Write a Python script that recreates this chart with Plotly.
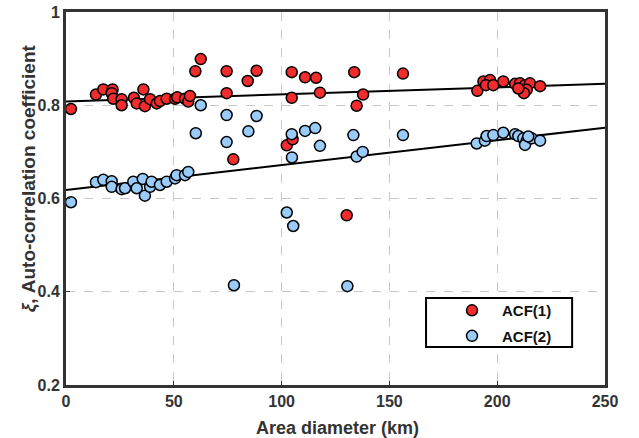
import plotly.graph_objects as go

# ACF(1) data (area diameter km, coefficient)
acf1_x = [2.3, 13.9, 17.3, 21.6, 21.2, 21.9, 25.8, 25.8, 31.5, 32.8, 35.9, 36.6, 39.0, 42.1, 43.6,
          46.7, 50.6, 51.6, 55.2, 56.7, 57.5,
          62.5, 60.0, 74.5, 84.3, 88.4, 74.5, 77.6,
          104.7, 110.9, 116.0, 133.7, 156.3, 104.7, 117.8, 137.8, 134.8, 102.4, 105.1, 130.2,
          190.8, 193.6, 196.7, 194.8, 198.2, 202.8, 208.3, 210.6, 212.9, 215.2, 213.7, 219.9, 212.4, 209.8]
acf1_y = [0.792, 0.823, 0.834, 0.834, 0.826, 0.814, 0.813, 0.800, 0.816, 0.804, 0.834, 0.798, 0.813, 0.804, 0.809,
          0.814, 0.814, 0.817, 0.814, 0.808, 0.820,
          0.899, 0.873, 0.873, 0.852, 0.874, 0.826, 0.684,
          0.871, 0.860, 0.859, 0.871, 0.868, 0.816, 0.827, 0.823, 0.799, 0.714, 0.727, 0.564,
          0.831, 0.851, 0.854, 0.843, 0.843, 0.851, 0.846, 0.847, 0.843, 0.847, 0.833, 0.841, 0.826, 0.836]

# ACF(2) data
acf2_x = [2.3, 13.9, 17.3, 21.2, 21.2, 25.8, 27.4, 31.2, 32.8, 35.6, 36.6, 39.0, 39.7, 43.6, 46.7,
          50.6, 51.3, 55.2, 56.7,
          62.5, 74.5, 88.4, 60.2, 74.5, 84.6, 104.7, 110.9, 115.6, 117.8, 133.3, 104.8, 134.8, 137.6, 156.3,
          102.4, 105.4, 77.9, 130.5,
          190.5, 194.3, 195.1, 198.2, 202.8, 208.3, 209.8, 212.1, 213.7, 212.9, 216.0, 219.9, 214.4]
acf2_y = [0.592, 0.635, 0.640, 0.637, 0.625, 0.620, 0.622, 0.636, 0.622, 0.642, 0.606, 0.625, 0.636, 0.629, 0.636,
          0.643, 0.650, 0.650, 0.657,
          0.800, 0.779, 0.777, 0.740, 0.721, 0.744, 0.738, 0.745, 0.751, 0.713, 0.736, 0.688, 0.690, 0.700, 0.736,
          0.570, 0.541, 0.414, 0.412,
          0.718, 0.724, 0.734, 0.736, 0.741, 0.738, 0.734, 0.729, 0.724, 0.715, 0.729, 0.724, 0.733]

# Linear trend lines
fit_x = [0, 250]
fit_acf1 = [0.808, 0.846]
fit_acf2 = [0.618, 0.752]

x_ticks = [0, 50, 100, 150, 200, 250]
y_ticks = [0.2, 0.4, 0.6, 0.8, 1.0]
y_tick_labels = ["0.2", "0.4", "0.6", "0.8", "1"]

RED = "#f22c2c"
BLUE = "#99ccfa"
FONT = "Liberation Sans"
DARK = "#333333"

fig = go.Figure()
fig.add_trace(go.Scatter(x=fit_x, y=fit_acf1, mode="lines", line=dict(color="black", width=2),
                         showlegend=False, hoverinfo="skip"))
fig.add_trace(go.Scatter(x=fit_x, y=fit_acf2, mode="lines", line=dict(color="black", width=2),
                         showlegend=False, hoverinfo="skip"))
fig.add_trace(go.Scatter(x=acf1_x, y=acf1_y, mode="markers", name="<b>ACF(1)</b>", legendgroup="a",
                         marker=dict(color=RED, size=11, line=dict(color="black", width=1.5))))
fig.add_trace(go.Scatter(x=acf2_x, y=acf2_y, mode="markers", name="<b>ACF(2)</b>", legendgroup="b",
                         marker=dict(color=BLUE, size=11, line=dict(color="black", width=1.5))))

axis_common = dict(showline=True, mirror=True, linecolor=DARK, linewidth=3,
                   showgrid=True, gridcolor="#c8c8c8", griddash="dash", gridwidth=1.2,
                   zeroline=False, ticks="inside", ticklen=4, tickcolor=DARK,
                   automargin=False,
                   tickfont=dict(family=FONT, size=16, color=DARK))

fig.update_xaxes(range=[0, 250], tickvals=x_ticks,
                 ticktext=[f"<b>{v}</b>" for v in x_ticks], **axis_common)
fig.update_yaxes(range=[0.2, 1.0], tickvals=y_ticks,
                 ticktext=[f"<b>{t}</b>" for t in y_tick_labels], **axis_common)

# Axis titles
fig.add_annotation(text="<b>Area diameter (km)</b>", xref="paper", yref="paper",
                   x=0.503, y=-0.115, xanchor="center", yanchor="middle", showarrow=False,
                   font=dict(family=FONT, size=18, color=DARK))
fig.add_annotation(text="<b><i>ξ</i>, Auto-correlation coefficient</b>", xref="paper", yref="paper",
                   x=-0.068, y=0.555, xanchor="center", yanchor="middle", showarrow=False,
                   textangle=-90, font=dict(family=FONT, size=19, color=DARK))

# Legend frame
fig.add_shape(type="rect", xref="paper", yref="paper", x0=0.668, x1=0.939, y0=0.102, y1=0.233,
              line=dict(color="black", width=2), fillcolor="white", layer="above")

fig.update_layout(
    width=639, height=438,
    margin=dict(l=66, r=34, t=12, b=53),
    plot_bgcolor="white", paper_bgcolor="white",
    font=dict(family=FONT, color="#222222"),
    legend=dict(x=0.6976, y=0.166, xanchor="left", yanchor="middle",
                bgcolor="rgba(0,0,0,0)", borderwidth=0,
                font=dict(family=FONT, size=15, color="#111111"),
                itemwidth=50, tracegroupgap=3),
)

fig.write_html("out.html")
